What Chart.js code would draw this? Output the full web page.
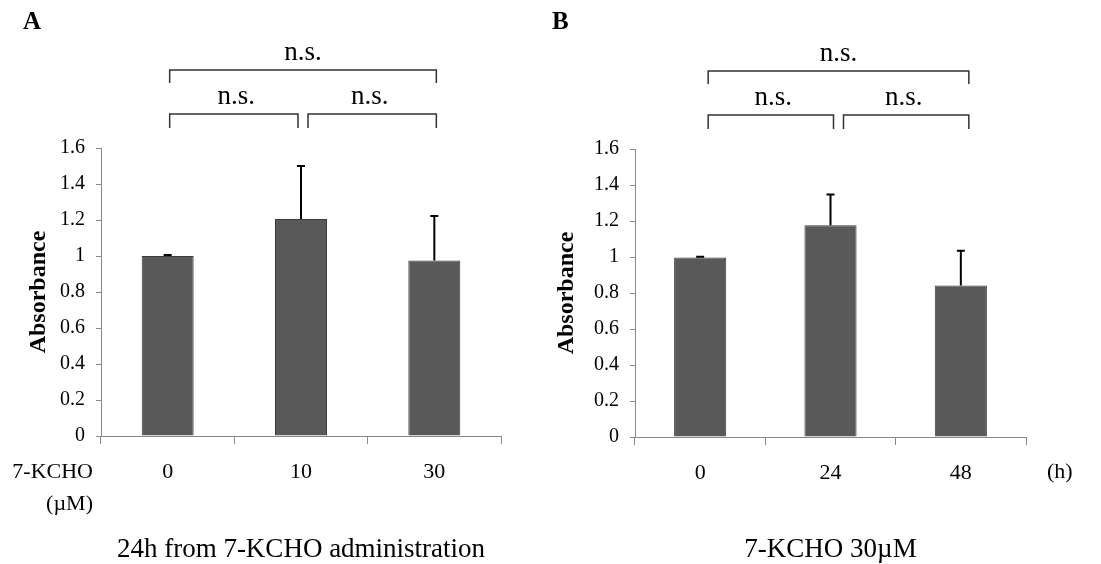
<!DOCTYPE html>
<html>
<head>
<meta charset="utf-8">
<script src="https://cdn.jsdelivr.net/npm/chart.js@4.4.0/dist/chart.umd.min.js"></script>
<style>
  body { margin: 0; background: #fff; }
  #wrap { position: relative; width: 1101px; height: 564px; overflow: hidden; background: #fff; }
  canvas { position: absolute; top: 0; }
</style>
</head>
<body>
<div id="wrap">
  <canvas id="chartA" width="550" height="564" style="left:0px"></canvas>
  <canvas id="chartB" width="567" height="564" style="left:534px"></canvas>
</div>
<script>
const yTickLabels = ['0', '0.2', '0.4', '0.6', '0.8', '1', '1.2', '1.4', '1.6'];

// panel A: dose, 24h
const concA = ['0', '10', '30'];
const absA = [1.00, 1.205, 0.975];
const errA = [0.005, 0.295, 0.247];

// panel B: time, 30uM
const timeB = ['0', '24', '48'];
const absB = [0.997, 1.177, 0.842];
const errB = [0.004, 0.170, 0.193];

const sigTop = 'n.s.';
const sigLeft = 'n.s.';
const sigRight = 'n.s.';

const SERIF = "'Liberation Serif', 'Times New Roman', serif";

function makePanel(id, p) {
  const deco = {
    id: 'deco',
    afterDatasetsDraw(chart) {
      const ctx = chart.ctx;
      const ys = chart.scales.y;
      const meta = chart.getDatasetMeta(0);
      ctx.save();
      ctx.strokeStyle = '#000';
      ctx.lineWidth = 2;
      meta.data.forEach((bar, i) => {
        const yTop = ys.getPixelForValue(p.values[i] + p.errors[i]);
        ctx.beginPath();
        ctx.moveTo(bar.x, bar.y);
        ctx.lineTo(bar.x, yTop);
        ctx.moveTo(bar.x - 4, yTop);
        ctx.lineTo(bar.x + 4, yTop);
        ctx.stroke();
      });
      ctx.restore();
    },
    afterDraw(chart) {
      const ctx = chart.ctx;
      const xs = chart.scales.x;
      const area = chart.chartArea;
      const c = i => xs.getPixelForValue(i) + p.shift;
      const top = area.top;

      ctx.save();
      ctx.strokeStyle = '#333';
      ctx.lineWidth = 1.5;
      const bracket = (x1, x2, yb, leg) => {
        ctx.beginPath();
        ctx.moveTo(x1, yb + leg);
        ctx.lineTo(x1, yb);
        ctx.lineTo(x2, yb);
        ctx.lineTo(x2, yb + leg);
        ctx.stroke();
      };
      bracket(c(0), c(2), top - 78, 13);
      bracket(c(0), c(1) - 5, top - 34, 14);
      bracket(c(1) + 5, c(2), top - 34, 14);

      ctx.fillStyle = '#000';
      ctx.textAlign = 'center';
      ctx.textBaseline = 'middle';
      ctx.font = '27px ' + SERIF;
      ctx.fillText(sigTop, (c(0) + c(2)) / 2, top - 95);
      ctx.fillText(sigLeft, (c(0) + c(1)) / 2, top - 51);
      ctx.fillText(sigRight, (c(1) + c(2)) / 2, top - 51);

      // panel letter
      ctx.textAlign = 'left';
      ctx.font = 'bold 25px ' + SERIF;
      ctx.fillText(p.letter, p.letterX, 23);

      // axis notes
      ctx.font = '22px ' + SERIF;
      if (p.unitLeft) {
        ctx.textAlign = 'right';
        p.unitLeft.forEach((t, k) => ctx.fillText(t, area.left - 8, 472 + k * 32));
      }
      if (p.unitRight) {
        ctx.textAlign = 'left';
        ctx.fillText(p.unitRight, area.right + 21, 472);
      }

      // bottom caption
      ctx.textAlign = 'center';
      ctx.font = '27px ' + SERIF;
      ctx.fillText(p.caption, (area.left + area.right) / 2, 550);
      ctx.restore();
    }
  };

  return new Chart(document.getElementById(id), {
    type: 'bar',
    data: {
      labels: p.labels,
      datasets: [{
        data: p.values,
        backgroundColor: '#595959',
        borderColor: '#3c3c3c',
        borderWidth: 1,
        categoryPercentage: 1,
        barPercentage: p.barPct
      }]
    },
    options: {
      responsive: false,
      animation: false,
      layout: { padding: { top: p.top, right: p.right, left: 0, bottom: 0 } },
      plugins: { legend: { display: false }, tooltip: { enabled: false } },
      scales: {
        x: {
          grid: { offset: true, drawOnChartArea: false, tickLength: 8, color: '#888' },
          border: { color: '#888', width: 1 },
          ticks: { color: '#000', padding: 15, font: { family: SERIF, size: 22 } },
          afterFit: s => { s.height = p.xHeight; }
        },
        y: {
          min: 0,
          max: 1.6,
          grid: { drawOnChartArea: false, tickLength: 5, color: '#888' },
          border: { color: '#888', width: 1 },
          ticks: {
            stepSize: 0.2,
            color: '#000',
            padding: 11,
            font: { family: SERIF, size: 20 },
            callback: (v, i) => yTickLabels[i]
          },
          title: {
            display: true,
            text: 'Absorbance',
            color: '#000',
            font: { family: SERIF, size: 24, weight: 'bold' },
            padding: { top: p.titlePad, bottom: 0 }
          },
          afterFit: s => { s.width = 101; }
        }
      }
    },
    plugins: [deco]
  });
}

makePanel('chartA', {
  labels: concA, values: absA, errors: errA,
  top: 148, right: 49, xHeight: 128, barPct: 0.39, shift: 2,
  titlePad: 24, letter: 'A', letterX: 23,
  unitLeft: ['7-KCHO', '(\u00b5M)'],
  caption: '24h from 7-KCHO administration'
});

makePanel('chartB', {
  labels: timeB, values: absB, errors: errB,
  top: 149, right: 75, xHeight: 127, barPct: 0.40, shift: 8,
  titlePad: 18, letter: 'B', letterX: 18,
  unitRight: '(h)',
  caption: '7-KCHO 30\u00b5M'
});
</script>
</body>
</html>
